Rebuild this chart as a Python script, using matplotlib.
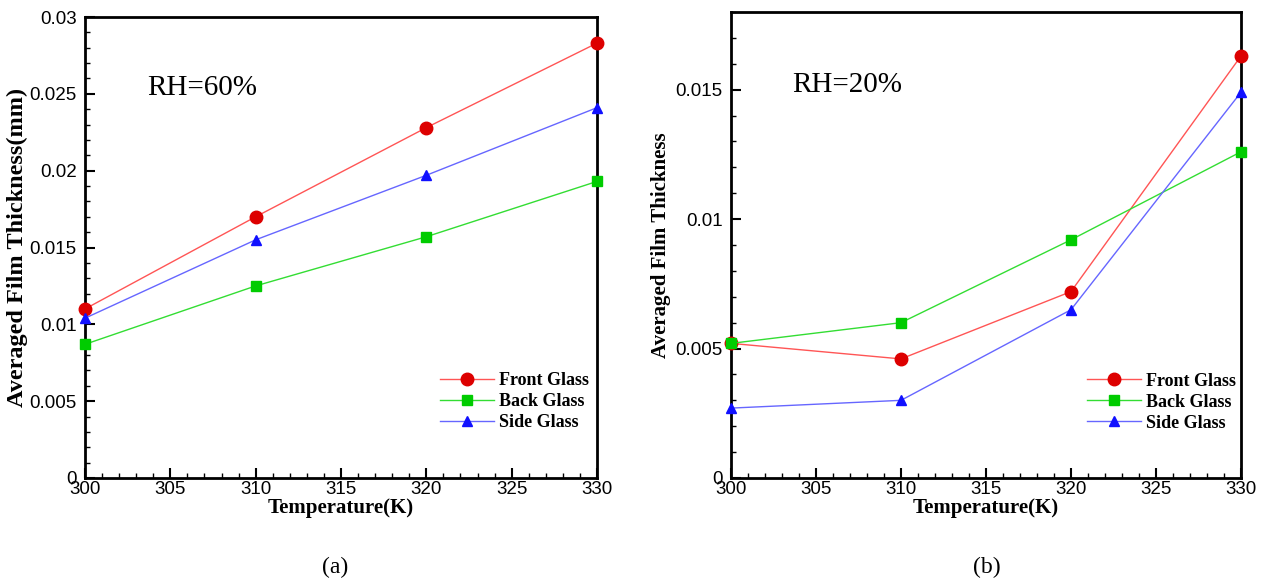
import numpy as np
import matplotlib.pyplot as plt
from matplotlib.ticker import MultipleLocator

temps = [300, 310, 320, 330]

# RH = 60 %
front_60 = [0.0110, 0.0170, 0.0228, 0.0283]
back_60 = [0.0087, 0.0125, 0.0157, 0.0193]
side_60 = [0.0104, 0.0155, 0.0197, 0.0241]

# RH = 20 %
front_20 = [0.0052, 0.0046, 0.0072, 0.0163]
back_20 = [0.0052, 0.0060, 0.0092, 0.0126]
side_20 = [0.0027, 0.0030, 0.0065, 0.0149]

labels = ['Front Glass', 'Back Glass', 'Side Glass']
line_cols = ['#ff5555', '#33dd33', '#6666ff']
mark_cols = ['#dd0000', '#00cc00', '#1010ff']
markers = ['o', 's', '^']
msizes = [9, 6.5, 6.5]

serif = 'Liberation Serif'
sans = 'Liberation Sans'

fig = plt.figure(figsize=(12.73, 5.83), dpi=100)
ax1 = fig.add_axes([85/1273, 105/583, 512/1273, 461/583])
ax2 = fig.add_axes([731/1273, 105/583, 510/1273, 466/583])


def draw(ax, series, ylab, ylab_size, ylab_pad, ymax, note, note_xy, leg_xy):
    for ys, lab, lc, mc, mk, ms in zip(series, labels, line_cols, mark_cols, markers, msizes):
        ax.plot(temps, ys, color=lc, lw=1, marker=mk, ms=ms, mfc=mc, mec=mc,
                label=lab, clip_on=False, zorder=3)
    ax.set_xlim(300, 330)
    ax.set_ylim(0, ymax)
    ax.xaxis.set_major_locator(MultipleLocator(5))
    ax.xaxis.set_minor_locator(MultipleLocator(1))
    ax.yaxis.set_major_locator(MultipleLocator(0.005))
    ax.yaxis.set_minor_locator(MultipleLocator(0.001))
    ax.yaxis.set_major_formatter(plt.FuncFormatter(lambda v, p: ('%g' % round(v, 4))))
    ax.tick_params(which='both', direction='in', top=False, right=False,
                   labelsize=13.5, width=1.5)
    ax.tick_params(which='major', length=7)
    ax.tick_params(axis='x', which='major', pad=2)
    ax.tick_params(axis='y', which='major', pad=6)
    ax.tick_params(which='minor', length=3.5, width=1)
    for lbl in ax.get_xticklabels() + ax.get_yticklabels():
        lbl.set_fontfamily(sans)
    # the "0" label sits a little above the corner, as in the original
    ax.yaxis.get_major_ticks()[0].label1.set_verticalalignment('bottom')
    for sp in ax.spines.values():
        sp.set_linewidth(2)
    ax.set_xlabel('Temperature(K)', fontfamily=serif, fontweight='bold',
                  fontsize=15, labelpad=0)
    ax.set_ylabel(ylab, fontfamily=serif, fontweight='bold', fontsize=ylab_size,
                  labelpad=ylab_pad)
    ax.text(note_xy[0], note_xy[1], note, transform=ax.transAxes, fontfamily=serif,
            fontsize=21, va='center')
    ax.legend(loc='center left', bbox_to_anchor=leg_xy, frameon=False,
              prop={'family': serif, 'weight': 'bold', 'size': 13},
              handlelength=3.0, labelspacing=0.22, handletextpad=0.28,
              borderpad=0, borderaxespad=0)


draw(ax1, [front_60, back_60, side_60], 'Averaged Film Thickness(mm)', 17.5, 1,
     0.03, 'RH=60%', (0.121, 0.846), (0.693, 0.165))
draw(ax2, [front_20, back_20, side_20], 'Averaged Film Thickness', 15, 3,
     0.018, 'RH=20%', (0.12, 0.843), (0.698, 0.163))

fig.text(335/1273, 1 - 567/583, '(a)', fontfamily=serif, fontsize=17, ha='center', va='center')
fig.text(987/1273, 1 - 567/583, '(b)', fontfamily=serif, fontsize=17, ha='center', va='center')

fig.savefig('out.png', dpi=100)
